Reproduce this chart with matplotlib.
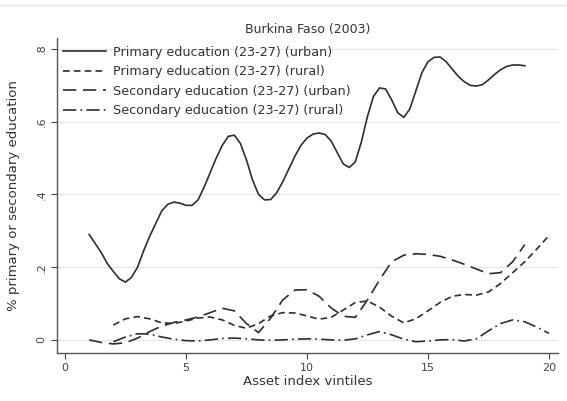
import numpy as np
import matplotlib.pyplot as plt
from matplotlib.lines import Line2D

# values (share of age group 23-27 with primary/secondary education)
x_prim_urban = np.arange(1, 19.01, 0.25)
prim_urban = [0.29, 0.265, 0.24, 0.21, 0.188, 0.168, 0.159, 0.172, 0.2, 0.245, 0.285, 0.32,
              0.355, 0.373, 0.379, 0.376, 0.37, 0.37, 0.385, 0.42, 0.46, 0.50, 0.535, 0.56,
              0.563, 0.54, 0.495, 0.44, 0.40, 0.385, 0.386, 0.405, 0.435, 0.47, 0.505, 0.535,
              0.555, 0.566, 0.569, 0.565, 0.547, 0.515, 0.484, 0.474, 0.49, 0.545, 0.615, 0.67,
              0.693, 0.69, 0.66, 0.625, 0.612, 0.635, 0.685, 0.735, 0.765, 0.777, 0.778, 0.765,
              0.745, 0.725, 0.71, 0.70, 0.698, 0.702, 0.715, 0.73, 0.743, 0.752, 0.756, 0.756,
              0.754]

x_prim_rural = np.arange(2, 20.01, 0.5)
prim_rural = [0.041, 0.058, 0.064, 0.058, 0.047, 0.045, 0.052, 0.06, 0.063, 0.055, 0.04, 0.032,
              0.045, 0.066, 0.075, 0.074, 0.066, 0.057, 0.062, 0.082, 0.103, 0.107, 0.09, 0.065,
              0.047, 0.058, 0.08, 0.103, 0.12, 0.125, 0.123, 0.132, 0.155, 0.185, 0.215, 0.25,
              0.287]

x_sec_urban = np.arange(1, 19.01, 0.5)
sec_urban = [0.0, -0.007, -0.011, -0.008, 0.005, 0.023, 0.038, 0.048, 0.055, 0.063, 0.075, 0.087,
             0.08, 0.045, 0.02, 0.06, 0.11, 0.137, 0.138, 0.12, 0.088, 0.065, 0.062, 0.11,
             0.165, 0.215, 0.233, 0.237, 0.235, 0.23, 0.22, 0.208, 0.195, 0.182, 0.185, 0.215,
             0.262]

x_sec_rural = np.arange(2, 20.01, 0.5)
sec_rural = [-0.005, 0.008, 0.017, 0.016, 0.008, 0.002, -0.002, -0.003, 0.0, 0.004, 0.005, 0.003,
             0.0, -0.001, 0.0, 0.002, 0.003, 0.002, 0.0, -0.001, 0.003, 0.014, 0.023, 0.014,
             0.002, -0.005, -0.003, 0.0, 0.001, -0.003, 0.003, 0.025, 0.045, 0.055, 0.05, 0.035,
             0.018]

labels = ["Primary education (23-27) (urban)", "Primary education (23-27) (rural)",
          "Secondary education (23-27) (urban)", "Secondary education (23-27) (rural)"]

col = "#2e2e2e"
styles = ["-", (0, (4, 2.5)), (0, (8, 4)), (0, (8, 2.5, 1, 2.5))]

fig = plt.figure(figsize=(5.67, 4.01), dpi=100)
ax = fig.add_axes([0.1005, 0.1197, 0.8835, 0.7853])

ax.plot(x_prim_urban, prim_urban, color=col, lw=1.2, ls=styles[0], label=labels[0])
ax.plot(x_prim_rural, prim_rural, color=col, lw=1.2, ls=styles[1], label=labels[1])
ax.plot(x_sec_urban, sec_urban, color=col, lw=1.2, ls=styles[2], label=labels[2])
ax.plot(x_sec_rural, sec_rural, color=col, lw=1.2, ls=styles[3], label=labels[3])

ax.set_xlim(-0.33, 20.37)
ax.set_ylim(-0.036, 0.83)
ax.set_xticks([0, 5, 10, 15, 20])
ax.set_yticks([0, 0.2, 0.4, 0.6, 0.8])
ax.set_yticklabels(["0", ".2", ".4", ".6", ".8"], rotation=90, va="center")
ax.tick_params(labelsize=8, colors="#444444", length=4, width=0.8)
for v in [0, 0.2, 0.4, 0.6, 0.8]:
    ax.axhline(v, color="#e6e6e6", lw=0.9, zorder=0)
for s in ["top", "right"]:
    ax.spines[s].set_visible(False)
for s in ["left", "bottom"]:
    ax.spines[s].set_color("#555555")
    ax.spines[s].set_linewidth(1.0)

ax.set_xlabel("Asset index vintiles", fontsize=9.5, color="#333333", labelpad=1)
ax.set_ylabel("% primary or secondary education", fontsize=9.5, color="#333333", labelpad=12)
ax.set_title("Burkina Faso (2003)", fontsize=9, color="#333333", pad=4)

handles = [Line2D([], [], color=col, lw=1.2, ls=s) for s in styles]
ax.legend(handles, labels, loc="upper left", bbox_to_anchor=(-0.011, 1.012), frameon=False,
          fontsize=9.2, handlelength=3.4, labelspacing=0.5, handletextpad=0.55,
          labelcolor="#333333")

fig.add_artist(Line2D([0.0, 1.0], [0.987, 0.987], color="#e6e6e6", lw=1.0))

fig.savefig("out.png", dpi=100, facecolor="white")
